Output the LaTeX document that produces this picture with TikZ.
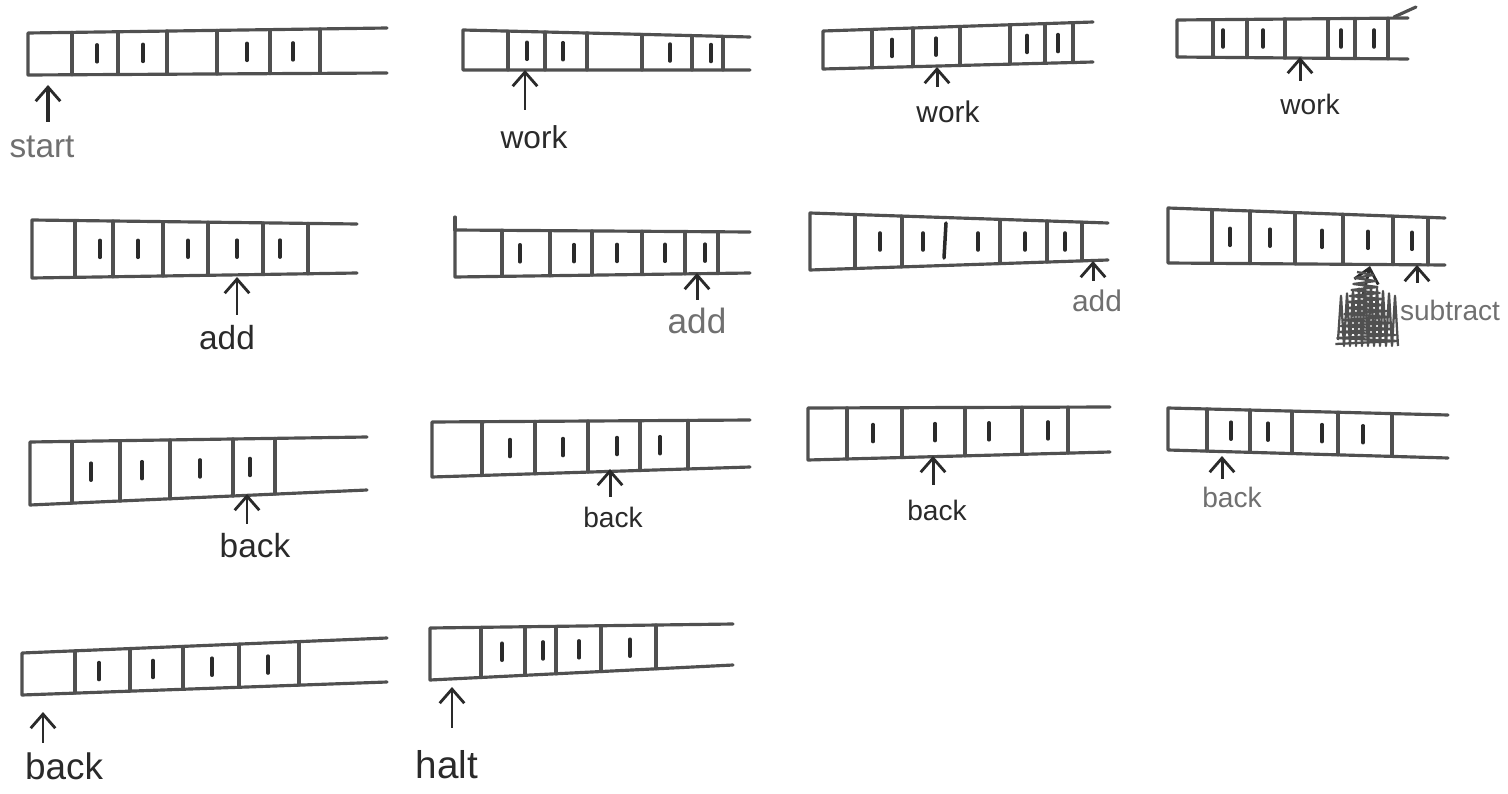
\documentclass[tikz,border=0pt]{standalone}
\usepackage{fontspec}
\setmainfont{Liberation Sans}
\usetikzlibrary{arrows.meta,calc}
\definecolor{ink}{HTML}{505050}
\definecolor{dark}{HTML}{2a2a2a}
\definecolor{soft}{HTML}{707070}
\tikzset{
 tapeline/.style={draw=ink,line width=1.8pt,line cap=round,line join=round},
 onemark/.style={draw=dark,line width=2pt,line cap=round},
 ptr/.style={draw=dark,line width=1.7pt,shorten <=3pt,-{Straight Barb[length=8pt,width=14pt,line width=1.6pt]}},
 lab/.style={text=dark,inner sep=0pt,anchor=north},
 softlab/.style={lab,text=soft},
}
% #1 name, #2 xl, #3 ytl, #4 ybl, #5 xr, #6 ytr, #7 ybr, #8 dividers, #9 marks
\newcommand{\tape}[9]{%
 \coordinate (#1-tl) at (#2,#3);
 \coordinate (#1-bl) at (#2,#4);
 \coordinate (#1-tr) at (#5,#6);
 \coordinate (#1-br) at (#5,#7);
 \draw[tapeline] (#1-tr) -- (#1-tl) -- (#1-bl) -- (#1-br);
 \foreach \dd in {#8} {%
  \pgfmathsetmacro\yt{#3+(#6-#3)*(\dd-#2)/(#5-#2)}%
  \pgfmathsetmacro\yb{#4+(#7-#4)*(\dd-#2)/(#5-#2)}%
  \draw[tapeline] (\dd,\yt) -- (\dd,\yb);
 }
 \foreach \mm in {#9} {%
  \pgfmathsetmacro\ym{(#3+#4)/2+((#6+#7)/2-(#3+#4)/2)*(\mm-#2)/(#5-#2)}%
  \draw[onemark] (\mm,\ym-8.5) -- (\mm,\ym+8.5);
 }
}
\newcommand{\fs}[1]{\fontsize{#1}{#1}\selectfont}
\begin{document}
\begin{tikzpicture}[x=0.02cm,y=-0.02cm]
\useasboundingbox[fill=white] (0,0) rectangle (1508,794);
% ---------- row 1
\tape{t1}{28}{33}{75}{387}{28}{73}{72,118,167,217,270,320}{97,143,247,293}
\tape{t2}{463}{30}{70}{750}{37}{70}{508,545,587,642,692,723}{527,563,670,711}
\tape{t3}{823}{31}{69}{1093}{22}{62}{872,913,960,1010,1045,1073}{892,936,1027,1058}
\tape{t4}{1177}{20}{57}{1408}{18}{59}{1213,1247,1285,1328,1355,1388}{1223,1263,1341,1374}
\draw[tapeline] (1394,17) -- (1416,7);
% ---------- row 2
\tape{t5}{32}{220}{278}{357}{224}{273}{75,113,163,208,263,308}{100,138,188,237,280}
\tape{t6}{455}{230}{277}{750}{232}{273}{502,550,592,642,685,718}{520,574,617,665,705}
\draw[tapeline] (455,217) -- (455,230);
\tape{t7}{810}{213}{270}{1108}{223}{260}{855,902,1000,1047,1082}{880,923,978,1025,1065}
\draw[onemark] (946,223) -- (944,258);
\tape{t8}{1168}{208}{263}{1445}{218}{265}{1212,1250,1295,1343,1393,1428}{1230,1270,1322,1368,1412}
% ---------- row 3
\tape{t9}{30}{442}{505}{367}{437}{490}{72,120,170,233,275}{91,142,200,250}
\tape{t10}{432}{422}{477}{750}{420}{467}{482,535,588,640,688}{510,563,617,660}
\tape{t11}{808}{408}{460}{1110}{407}{452}{847,902,965,1022,1068}{873,935,989,1048}
\tape{t12}{1168}{408}{450}{1448}{415}{458}{1207,1250,1292,1338,1392}{1231,1268,1322,1363}
% ---------- row 4
\tape{t13}{22}{653}{695}{387}{638}{682}{75,130,183,239,299}{99,153,212,268}
\tape{t14}{430}{628}{680}{733}{624}{665}{481,525,556,601,656}{502,543,579,630}
% ---------- labels
\node[softlab] (l1) at (42,136) {\fs{19}start};
\node[lab] (l2) at (534,125) {\fs{18}work};
\node[lab] (l3) at (948,101) {\fs{17}work};
\node[lab] (l4) at (1310,94) {\fs{16}work};
\node[lab] (l5) at (227,325) {\fs{19}add};
\node[softlab] (l6) at (697,308) {\fs{20}add};
\node[softlab] (l7) at (1097,290) {\fs{17}add};
\node[softlab] (l8) at (1450,300) {\fs{16}subtract};
\node[lab] (l9) at (255,533) {\fs{19}back};
\node[lab] (l10) at (613,507) {\fs{16}back};
\node[lab] (l11) at (937,500) {\fs{16}back};
\node[softlab] (l12) at (1232,487) {\fs{16}back};
\node[lab] (l13) at (64,752) {\fs{21}back};
\node[lab] (l14) at (447,750) {\fs{22}halt};
% ---------- head coordinates
\coordinate (h1) at (48,85);
\coordinate (h2) at (525,70);
\coordinate (h3) at (937,67);
\coordinate (h4) at (1300,57);
\coordinate (h5) at (237,277);
\coordinate (h6) at (697,273);
\coordinate (h7) at (1093,261);
\coordinate (h8) at (1417,265);
\coordinate (h8b) at (1370,266);
\coordinate (h9) at (247,494);
\coordinate (h10) at (610,469);
\coordinate (h11) at (933,456);
\coordinate (h12) at (1222,456);
\coordinate (h13) at (43,712);
\coordinate (h14) at (452,687);
\draw[ptr,line width=2.4pt] (l1.north -| h1) ++(0,-9) -- (h1);
\foreach \i/\g in {2/10,3/9,4/8,5/5,6/3,7/4,9/4,10/5,11/10,12/3,13/4,14/17}{
 \draw[ptr] ($(l\i.north -| h\i)+(0,-\g)$) -- (h\i);
}
\draw[ptr] ($(l8.north -| h8)+(0,-12)$) -- (h8);
\draw[ptr] (1362,300) -- (h8b);
% scribble over the crossed-out word
\draw[draw=ink,line width=1.3pt,line join=round]
 (1357,272) \foreach \k in {1,...,24} { -- ({mod(\k,2)==1 ? 1372+\k*1.1 : 1357-\k*0.9}, {272+\k*3}) };
\draw[draw=ink,line width=1.3pt,line join=round]
 (1338,340) \foreach \k in {1,...,20} { -- ({1338+\k*3}, {mod(\k,2)==1 ? 285+abs(\k-10)*1.2 : 346}) };
\end{tikzpicture}
\end{document}
